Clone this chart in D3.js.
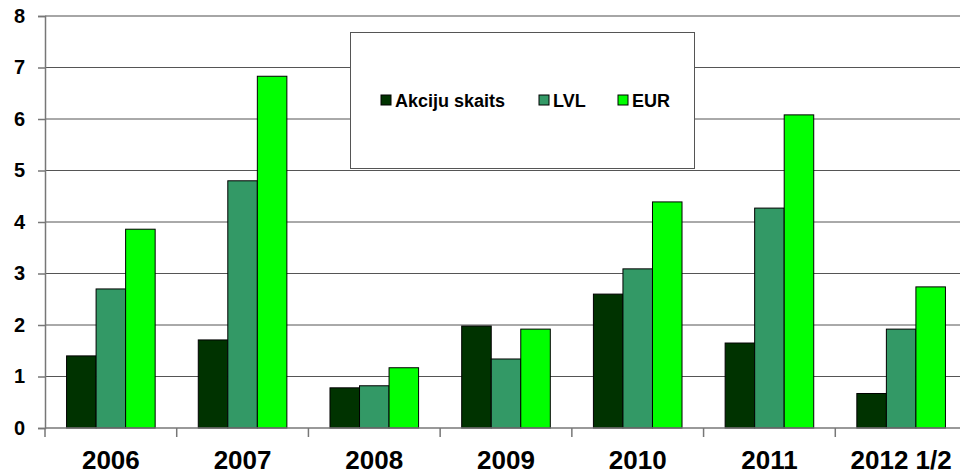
<!DOCTYPE html>
<html>
<head>
<meta charset="utf-8">
<script src="https://cdn.jsdelivr.net/npm/d3@7"></script>
<style>
  body { margin: 0; background: #fff; }
  svg { display: block; font-family: "Liberation Sans", Arial, sans-serif; }
</style>
</head>
<body>
<div id="chart"></div>
<script>
var years = ["2006", "2007", "2008", "2009", "2010", "2011", "2012 1/2"];
var seriesNames = ["Akciju skaits", "LVL", "EUR"];
var akcijuSkaits = [1.40, 1.71, 0.78, 1.98, 2.60, 1.65, 0.67];
var lvl = [2.70, 4.80, 0.82, 1.34, 3.09, 4.27, 1.92];
var eur = [3.86, 6.83, 1.17, 1.92, 4.39, 6.08, 2.74];
var yTicks = [0, 1, 2, 3, 4, 5, 6, 7, 8];
var colors = ["#003300", "#339966", "#00ff00"];

var W = 960, H = 474;
var plotLeft = 45, plotTop = 16, plotBottom = 428, plotRight = 967;

var svg = d3.select("#chart").append("svg")
  .attr("width", W)
  .attr("height", H);

var x0 = d3.scaleBand().domain(years).range([plotLeft, plotRight]).paddingInner(0).paddingOuter(0);
var x1 = d3.scaleBand().domain(seriesNames).range([0, x0.bandwidth()]).paddingInner(0).paddingOuter(0.73);
var y = d3.scaleLinear().domain([0, 8]).range([plotBottom, plotTop]);

var rows = years.map(function(yr, i) {
  return { year: yr, values: [akcijuSkaits[i], lvl[i], eur[i]] };
});

// gridlines
svg.append("g")
  .selectAll("line")
  .data(yTicks.filter(function(d) { return d > 0; }))
  .join("line")
    .attr("x1", plotLeft)
    .attr("x2", W)
    .attr("y1", function(d) { return y(d); })
    .attr("y2", function(d) { return y(d); })
    .style("stroke", function(d) { return d === 8 ? "#888" : "#555"; })
    .style("stroke-width", function(d) { return d === 8 ? 1.5 : 1; });

// bars
var groups = svg.append("g")
  .selectAll("g")
  .data(rows)
  .join("g")
    .attr("transform", function(d) { return "translate(" + x0(d.year) + ",0)"; });

groups.selectAll("rect")
  .data(function(d) { return d.values.map(function(v, j) { return { name: seriesNames[j], value: v, c: colors[j] }; }); })
  .join("rect")
    .attr("x", function(d) { return x1(d.name); })
    .attr("y", function(d) { return y(d.value); })
    .attr("width", x1.bandwidth())
    .attr("height", function(d) { return y(0) - y(d.value); })
    .style("fill", function(d) { return d.c; })
    .style("stroke", "#000")
    .style("stroke-width", 1);

// y axis
var yAxis = svg.append("g")
  .attr("transform", "translate(" + plotLeft + ",0)")
  .call(d3.axisLeft(y).tickValues(yTicks).tickSize(7).tickPadding(13).tickFormat(d3.format("d")));
yAxis.select(".domain").style("stroke", "#777").style("stroke-width", 1.5);
yAxis.selectAll(".tick line").style("stroke", "#777").style("stroke-width", 1.5);
yAxis.selectAll("text")
  .style("font-size", "20px")
  .style("font-weight", "bold")
  .style("fill", "#000")
  .attr("font-family", null);

// x axis
svg.append("line")
  .attr("x1", plotLeft).attr("x2", W)
  .attr("y1", y(0)).attr("y2", y(0))
  .style("stroke", "#777").style("stroke-width", 1.5);

svg.append("g")
  .selectAll("line")
  .data(years)
  .join("line")
    .attr("x1", function(d) { return x0(d); })
    .attr("x2", function(d) { return x0(d); })
    .attr("y1", y(0))
    .attr("y2", y(0) + 9)
    .style("stroke", "#777").style("stroke-width", 1.5);

svg.append("g")
  .selectAll("text")
  .data(years)
  .join("text")
    .attr("x", function(d) { return x0(d) + x0.bandwidth() / 2; })
    .attr("y", 469)
    .attr("text-anchor", "middle")
    .style("font-size", "26px")
    .style("font-weight", "bold")
    .text(function(d) { return d; });

// legend
var legend = svg.append("g");
legend.append("rect")
  .attr("x", 350.5).attr("y", 32.5)
  .attr("width", 344).attr("height", 136)
  .style("fill", "#fff")
  .style("stroke", "#555")
  .style("stroke-width", 1);

var legendX = [381, 539, 618];
var items = legend.selectAll("g.item")
  .data(seriesNames)
  .join("g")
    .attr("class", "item")
    .attr("transform", function(d, i) { return "translate(" + legendX[i] + ",95)"; });

items.append("rect")
  .attr("width", 10).attr("height", 10)
  .style("fill", function(d, i) { return colors[i]; })
  .style("stroke", "#000").style("stroke-width", 1);

items.append("text")
  .attr("x", 14)
  .attr("y", 11.5)
  .style("font-size", "18px")
  .style("font-weight", "bold")
  .text(function(d) { return d; });
</script>
</body>
</html>
